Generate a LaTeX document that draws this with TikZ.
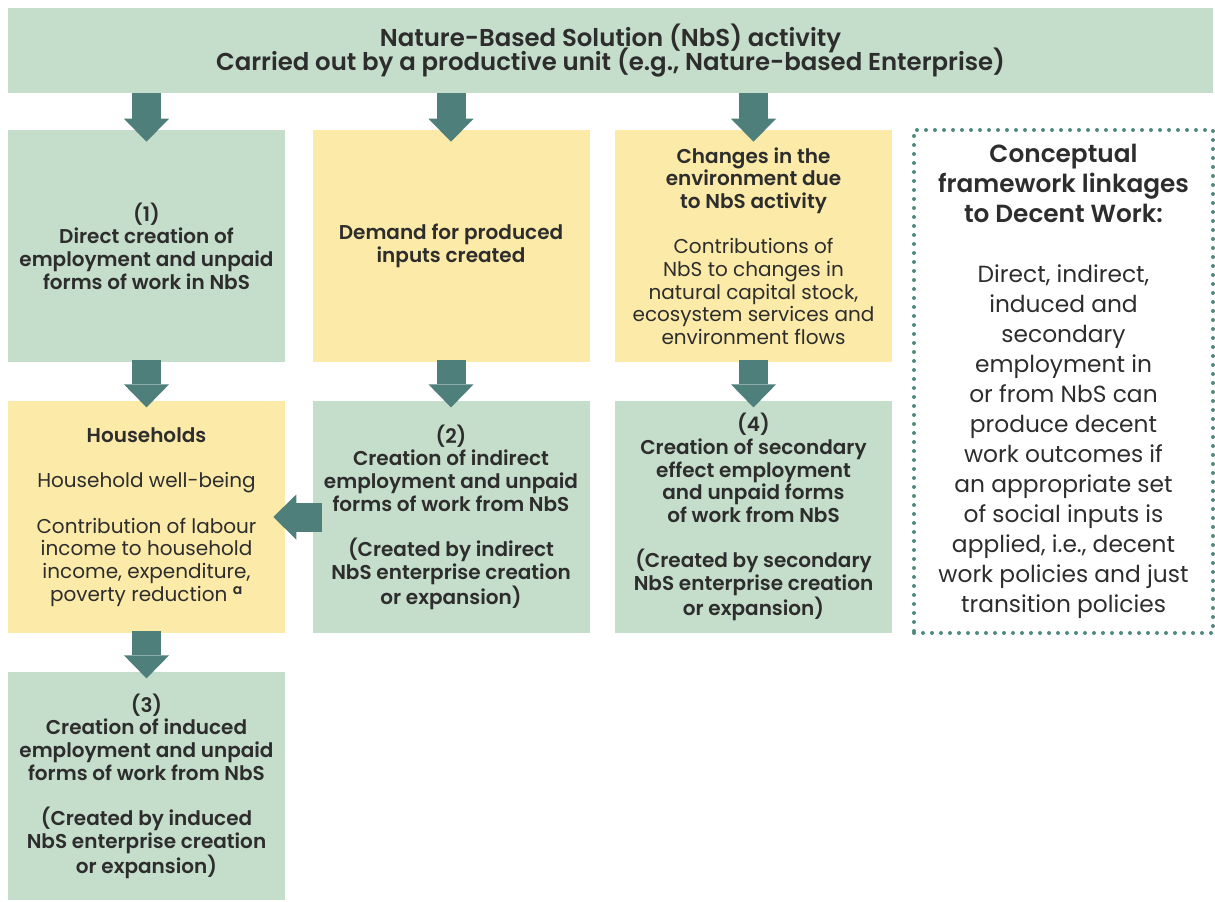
\documentclass[tikz,border=0pt]{standalone}
\usepackage{fontspec}
\setmainfont{Poppins}[BoldFont={Poppins SemiBold}]
\usetikzlibrary{arrows.meta}
\definecolor{nbsgreen}{HTML}{C5DDCB}
\definecolor{nbsyellow}{HTML}{FCEBA8}
\definecolor{nbsarrow}{HTML}{4F7F7B}
\definecolor{nbsdots}{HTML}{4F8A80}
\definecolor{nbstext}{HTML}{2D2D2D}
\newcommand\tightlines{\lineskiplimit=-20pt\relax}

\begin{document}
\begin{tikzpicture}[x=0.75pt, y=-0.75pt,
  box/.style={inner sep=0pt, align=center, text=nbstext, font=\fontsize{15}{17}\selectfont},
  boldbox/.style={font=\bfseries\fontsize{15}{17}\selectfont},
  greenbox/.style={box, fill=nbsgreen, minimum width=207.75pt, minimum height=174pt},
  yellowbox/.style={box, fill=nbsyellow, minimum width=207.75pt, minimum height=174pt},
  bigarrow/.style={color=nbsarrow, line width=21.75pt, -{Triangle[length=17.25pt, width=33.75pt, line width=0pt]}}]
  \useasboundingbox (0,0) rectangle (1215,901);

  \node[box, fill=nbsgreen, minimum width=903.75pt, minimum height=63.75pt,
        font=\bfseries\fontsize{18.3}{18}\selectfont\tightlines] (top) at (610.5,50.5)
    {Nature-Based Solution (NbS) activity\\Carried out by a productive unit (e.g., Nature-based Enterprise)};

  \node[greenbox, boldbox] (direct) at (146.5,246)
    {(1)\\Direct creation of\\employment and unpaid\\forms of work in NbS};
  \node[yellowbox, boldbox] (demand) at (451,246)
    {Demand for produced\\inputs created};
  \node[yellowbox] (envir) at (753.5,246)
    {\textbf{Changes in the}\\\textbf{environment due}\\\textbf{to NbS activity}\\[17pt]
     Contributions of\\NbS to changes in\\natural capital stock,\\ecosystem services and\\environment flows};

  \node[yellowbox] (house) at (146.5,517)
    {\textbf{Households}\\[17pt]Household well-being\\[17pt]
     Contribution of labour\\income to household\\income, expenditure,\\poverty reduction \textsuperscript{\bfseries a}};
  \node[greenbox, boldbox] (indirect) at (451,517)
    {(2)\\Creation of indirect\\employment and unpaid\\forms of work from NbS\\[17pt]
     (Created by indirect\\NbS enterprise creation\\or expansion)};
  \node[greenbox, boldbox] (second) at (753.5,517)
    {(4)\\Creation of secondary\\effect employment\\and unpaid forms\\of work from NbS\\[17pt]
     (Created by secondary\\NbS enterprise creation\\or expansion)};

  \node[greenbox, boldbox, minimum height=171pt] (induced) at (146.5,786)
    {(3)\\Creation of induced\\employment and unpaid\\forms of work from NbS\\[17pt]
     (Created by induced\\NbS enterprise creation\\or expansion)};

  % framework note on the right
  \node[box, draw=nbsdots, line width=3pt, line cap=round, dash pattern=on 0pt off 6.75pt,
        minimum width=224.25pt, minimum height=377.25pt, font=\fontsize{17.5}{22.5}\selectfont] (frame) at (1063.5,381.5)
    {\textbf{\fontsize{18.6}{22.5}\selectfont Conceptual}\\\textbf{\fontsize{18.6}{22.5}\selectfont framework linkages}\\
     \textbf{\fontsize{18.6}{22.5}\selectfont to Decent Work:}\\[22.5pt]
     Direct, indirect,\\induced and\\secondary\\employment in\\or from NbS can\\produce decent\\work outcomes if\\an appropriate set\\of social inputs is\\applied, i.e., decent\\work policies and just\\transition policies};

  \path[bigarrow]
    (top.south -| direct.north) edge ([yshift=-9pt]direct.north)
    (top.south -| demand.north) edge ([yshift=-9pt]demand.north)
    (top.south -| envir.north) edge ([yshift=-9pt]envir.north)
    ([yshift=1.5pt]direct.south) edge ([yshift=-5pt]house.north)
    ([yshift=1.5pt]demand.south) edge ([yshift=-5pt]indirect.north)
    ([yshift=1.5pt]envir.south) edge ([yshift=-5pt]second.north)
    ([yshift=1.5pt]house.south) edge ([yshift=-5pt]induced.north)
    ([xshift=7.5pt]indirect.west) edge ([xshift=-9pt]house.east);
\end{tikzpicture}
\end{document}
